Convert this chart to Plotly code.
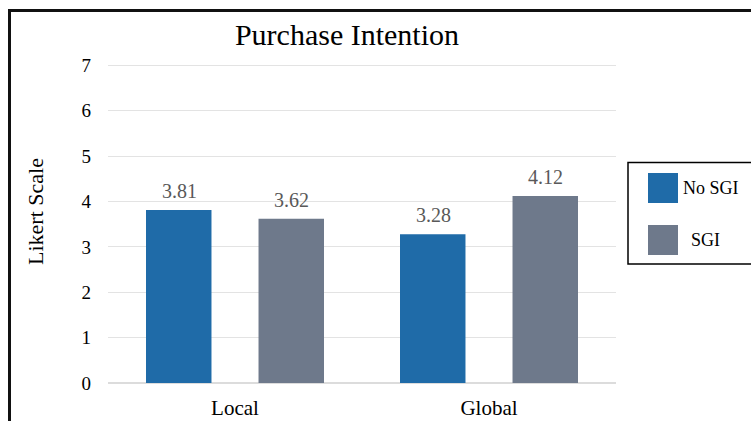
import plotly.graph_objects as go

categories = ["Local", "Global"]
series_names = ["No SGI", "SGI"]
no_sgi = [3.81, 3.28]
sgi = [3.62, 4.12]
series_values = [no_sgi, sgi]
colors = ["#1F6BA8", "#6E798B"]
y_ticks = [0, 1, 2, 3, 4, 5, 6, 7]
y_max = 7.03

W, H = 751, 421
L, R, B = 108, 135, 38
UNIT = 318 / 7.0
T = int(round(H - B - UNIT * y_max))
PW, PH = W - L - R, H - T - B

def px(x):
    return (x - L) / PW

def py(y):
    return (H - B - y) / PH

SERIF = "Liberation Serif, Times New Roman, serif"

fig = go.Figure()
for name, vals, col in zip(series_names, series_values, colors):
    fig.add_trace(go.Bar(x=categories, y=vals, name=name, marker=dict(color=col, line=dict(width=0)),
                         showlegend=False))

annotations = []
offsets = [-56, 56]
for vals, off in zip(series_values, offsets):
    for c, v in zip(categories, vals):
        annotations.append(dict(x=c, y=v, xref="x", yref="y", text=f"{v:.2f}", showarrow=False,
                                xshift=off, yanchor="bottom", yshift=6,
                                font=dict(family=SERIF, size=20, color="#595959")))

# axis title
annotations.append(dict(x=px(35), y=py(212), xref="paper", yref="paper", text="Likert Scale",
                        textangle=-90, showarrow=False, xanchor="center", yanchor="middle",
                        font=dict(family=SERIF, size=22, color="#000000")))

shapes = []
# outer border
shapes.append(dict(type="rect", xref="paper", yref="paper", x0=px(9.5), y0=py(440), x1=px(770), y1=py(10.5),
                   line=dict(color="#111111", width=3), fillcolor="rgba(0,0,0,0)", layer="above"))
# legend box
shapes.append(dict(type="rect", xref="paper", yref="paper", x0=px(628), y0=py(264), x1=px(760), y1=py(162.5),
                   line=dict(color="#000000", width=1.5), fillcolor="rgba(0,0,0,0)"))
leg_y = [188, 240]
text_x = [681, 689]
for name, col, cy, tx in zip(series_names, colors, leg_y, text_x):
    shapes.append(dict(type="rect", xref="paper", yref="paper", x0=px(648), x1=px(678), y0=py(cy + 15), y1=py(cy - 15),
                       line=dict(width=0), fillcolor=col))
    annotations.append(dict(x=px(tx), y=py(cy), xref="paper", yref="paper", text=name, showarrow=False,
                            xanchor="left", yanchor="middle", font=dict(family=SERIF, size=18, color="#000000")))

fig.update_layout(
    width=W, height=H,
    margin=dict(l=L, r=R, t=T, b=B, pad=0, autoexpand=False),
    paper_bgcolor="white", plot_bgcolor="white",
    barmode="group", bargap=0.114, bargroupgap=0.418,
    title=dict(text="Purchase Intention", x=347 / W, xref="container", xanchor="center",
               y=1 - 34 / H, yref="container", yanchor="middle",
               font=dict(family=SERIF, size=30, color="#000000")),
    xaxis=dict(showgrid=False, showline=False, ticks="", zeroline=False, automargin=False,
               tickfont=dict(family=SERIF, size=21, color="#000000"), ticklabelstandoff=10),
    yaxis=dict(range=[0, y_max], tickvals=y_ticks, showgrid=True, gridcolor="#E3E3E3", gridwidth=1,
               zeroline=True, zerolinecolor="#DCDCDC", zerolinewidth=2, showline=False, ticks="",
               automargin=False,
               tickfont=dict(family=SERIF, size=19, color="#000000"), ticklabelstandoff=16),
    annotations=annotations, shapes=shapes,
    font=dict(family=SERIF),
)

fig.write_html("out.html")
